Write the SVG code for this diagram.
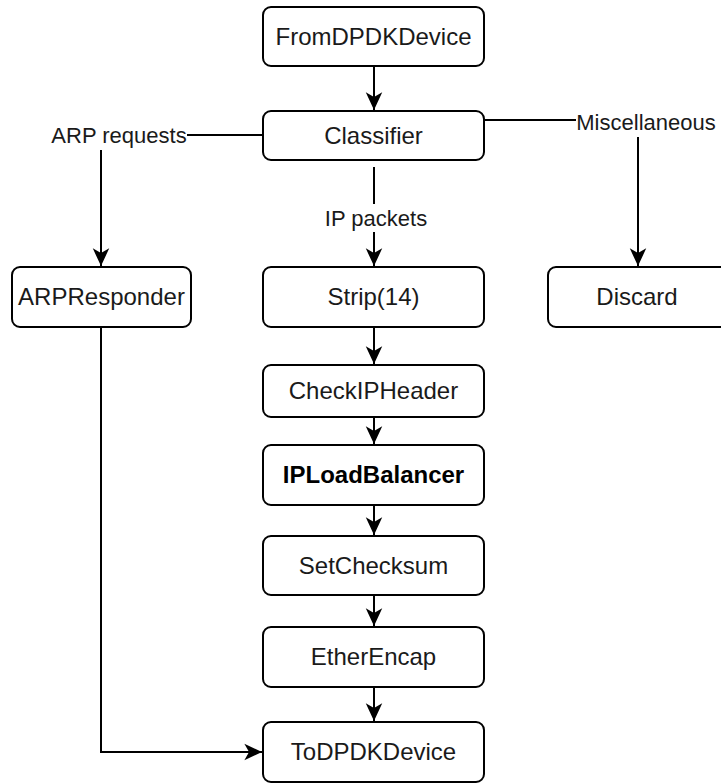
<svg xmlns="http://www.w3.org/2000/svg" width="721" height="784" viewBox="0 0 721 784">
<defs>
<style>
.box{fill:#fff;stroke:#000;stroke-width:2}
.t{font-family:"Liberation Sans",Arial,sans-serif;font-size:24px;fill:#1a1a1a;text-anchor:middle}
.b{font-weight:bold;fill:#000}
.lbl{font-family:"Liberation Sans",Arial,sans-serif;font-size:22px;fill:#1a1a1a;text-anchor:middle}
.e{fill:none;stroke:#000;stroke-width:2}
</style>
<marker id="arr" markerUnits="userSpaceOnUse" markerWidth="20" markerHeight="20" viewBox="-16 -8 17 16" refX="0" refY="0" orient="auto">
<path d="M-15,-7 L0,0 L-15,7 L-11,0 Z" fill="#000"/>
</marker>
</defs>
<rect width="721" height="784" fill="#fff"/>
<g id="connectors">
<path class="e" d="M374,66 V110" marker-end="url(#arr)"/>
<path class="e" d="M374,167 V204"/>
<path class="e" d="M374,232 V266" marker-end="url(#arr)"/>
<path class="e" d="M263,135 H187"/>
<path class="e" d="M101,150 V266" marker-end="url(#arr)"/>
<path class="e" d="M484,120 H576"/>
<path class="e" d="M638,137 V266" marker-end="url(#arr)"/>
<path class="e" d="M374,327 V364" marker-end="url(#arr)"/>
<path class="e" d="M374,417 V444" marker-end="url(#arr)"/>
<path class="e" d="M374,505 V535" marker-end="url(#arr)"/>
<path class="e" d="M374,595 V626" marker-end="url(#arr)"/>
<path class="e" d="M374,687 V721" marker-end="url(#arr)"/>
<path class="e" d="M101,327 V752 H262" marker-end="url(#arr)"/>
<text class="lbl" x="119" y="143">ARP requests</text>
<text class="lbl" x="376" y="226">IP packets</text>
<text class="lbl" x="646" y="130">Miscellaneous</text>
</g>
<g id="FromDPDKDevice"><rect class="box" x="263" y="7" width="221" height="59" rx="8"/><text class="t" x="373.5" y="45">FromDPDKDevice</text></g>
<g id="Classifier"><rect class="box" x="263" y="111" width="221" height="49" rx="8"/><text class="t" x="373.5" y="144">Classifier</text></g>
<g id="ARPResponder"><rect class="box" x="12" y="267" width="179" height="60" rx="8"/><text class="t" x="101.5" y="305">ARPResponder</text></g>
<g id="Strip"><rect class="box" x="263" y="267" width="221" height="60" rx="8"/><text class="t" x="373.5" y="305">Strip(14)</text></g>
<g id="Discard"><rect class="box" x="548" y="267" width="180" height="60" rx="8"/><text class="t" x="637" y="305">Discard</text></g>
<g id="CheckIPHeader"><rect class="box" x="263" y="365" width="221" height="52" rx="8"/><text class="t" x="373.5" y="399">CheckIPHeader</text></g>
<g id="IPLoadBalancer"><rect class="box" x="263" y="445" width="221" height="60" rx="8"/><text class="t b" x="373.5" y="483">IPLoadBalancer</text></g>
<g id="SetChecksum"><rect class="box" x="263" y="536" width="221" height="59" rx="8"/><text class="t" x="373.5" y="574">SetChecksum</text></g>
<g id="EtherEncap"><rect class="box" x="263" y="627" width="221" height="60" rx="8"/><text class="t" x="373.5" y="665">EtherEncap</text></g>
<g id="ToDPDKDevice"><rect class="box" x="263" y="722" width="221" height="60" rx="8"/><text class="t" x="373.5" y="760">ToDPDKDevice</text></g>
</svg>
